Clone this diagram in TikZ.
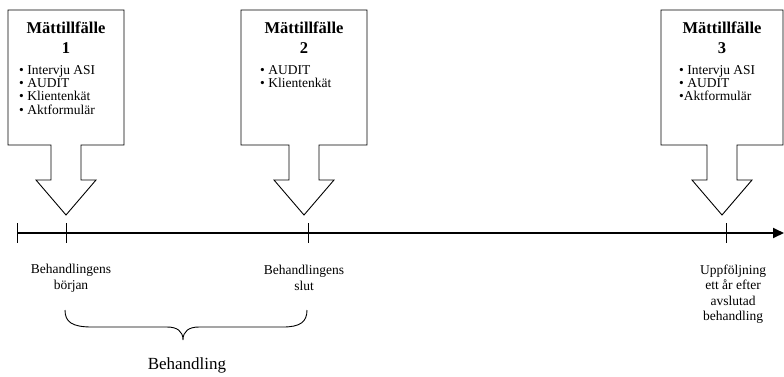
\documentclass[tikz,border=0pt]{standalone}
\usepackage{fontspec}
\setmainfont{Liberation Serif}
\usetikzlibrary{arrows.meta}

% callout outline: #1 centre x, #2 half width of the box
\newcommand{\mattcallout}[2]{%
  \draw[kontur] (#1-#2,10) -- (#1+#2,10) -- (#1+#2,145) -- (#1+15,145) -- (#1+15,180)
    -- (#1+30,180) -- (#1,215) -- (#1-30,180) -- (#1-15,180) -- (#1-15,145)
    -- (#1-#2,145) -- cycle;}

\tikzset{
  kontur/.style={line width=0.9pt},
  titel/.style={font=\fontsize{16.5}{20}\selectfont\bfseries, inner sep=0},
  lista/.style={font=\fontsize{13.5}{13.4}\selectfont, align=left, inner sep=0, anchor=north west},
  etikett/.style={font=\fontsize{13.5}{15.5}\selectfont, align=center, inner sep=0},
  tick/.style={line width=0.9pt}
}

\begin{document}
\begin{tikzpicture}[x=1pt,y=-1pt]
\useasboundingbox (0,0) rectangle (784,376);

\mattcallout{66}{58}
\mattcallout{304}{63}
\mattcallout{722}{61}

\node[titel, anchor=base] (T1) at (66,33) {Mättillfälle};
\node[titel, anchor=base] (N1) at (66,53) {1};
\node[lista] (L1) at (19,65) {• Intervju ASI\\• AUDIT\\• Klientenkät\\• Aktformulär};

\node[titel, anchor=base] (T2) at (304,33) {Mättillfälle};
\node[titel, anchor=base] (N2) at (304,53) {2};
\node[lista] (L2) at (260,65) {• AUDIT\\• Klientenkät};

\node[titel, anchor=base] (T3) at (722,33) {Mättillfälle};
\node[titel, anchor=base] (N3) at (722,53) {3};
\node[lista] (L3) at (679,65) {• Intervju ASI\\• AUDIT\\•Aktformulär};

% tidslinje
\coordinate (S) at (17,233);
\coordinate (E) at (784,233);
\coordinate (B) at (66,233);
\coordinate (F) at (308,233);
\coordinate (U) at (726,233);
\draw[line width=1.8pt, -{Triangle[length=11pt,width=10pt]}] (S) -- (E);
\foreach \p in {S,B,F,U}
  \draw[tick] ([yshift=10pt]\p) -- ([yshift=-10pt]\p);

\node[etikett] (Lb) at (71,278) {Behandlingens\\början};
\node[etikett] (Lf) at (304,278) {Behandlingens\\slut};
\node[etikett] (Lu) at (733,294) {Uppföljning\\ett år efter\\avslutad\\behandling};

% klammer
\coordinate (K1) at (65,310);
\coordinate (K2) at (307,310);
\coordinate (Kspets) at (183,340);
\draw[kontur] (K1) .. controls (65,322) and (72,327) .. (92,327) -- (167,327)
  .. controls (177,327) and (183,331) .. (Kspets)
  .. controls (183,331) and (189,327) .. (199,327) -- (283,327)
  .. controls (300,327) and (307,322) .. (K2);
\node[font=\fontsize{17}{20}\selectfont, inner sep=0] (Beh) at (187,365) {Behandling};
\end{tikzpicture}
\end{document}
